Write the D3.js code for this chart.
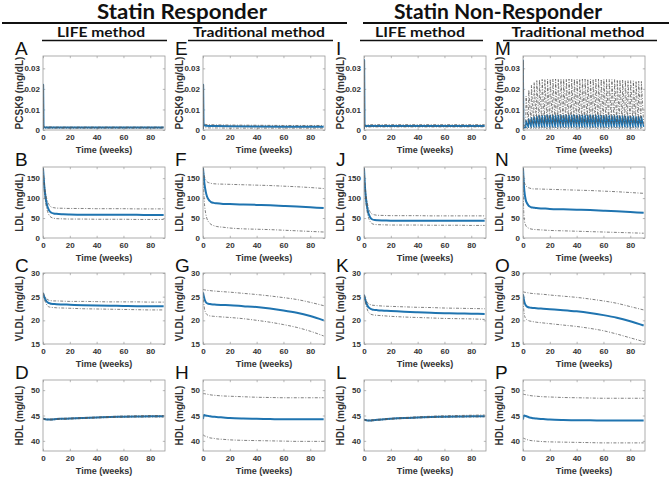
<!DOCTYPE html>
<html><head><meta charset="utf-8">
<script src="https://cdn.jsdelivr.net/npm/d3@7"></script>
<style>body{margin:0;background:#fff}svg{display:block}</style>
</head><body>
<svg id="c" width="669" height="478"></svg>
<script>
// ---------------- DATA ----------------
const groupTitles = ["Statin Responder", "Statin Non-Responder"];
const methodTitles = ["LIFE method", "Traditional method", "LIFE method", "Traditional method"];
const panelLetters = [["A","B","C","D"],["E","F","G","H"],["I","J","K","L"],["M","N","O","P"]];
const yLabels = ["PCSK9 (mg/dL)", "LDL (mg/dL)", "VLDL (mg/dL)", "HDL (mg/dL)"];
const xLabel = "Time (weeks)";
const xTicks = [0, 20, 40, 60, 80];
const yTicksPCSK9 = [0, 0.01, 0.02, 0.03];
const yTickLabelsPCSK9 = ["0", "0.01", "0.02", "0.03"];
const yTicksLDL = [0, 50, 100, 150];
const yTicksVLDL = [15, 20, 25, 30];
const yTicksHDL = [40, 45, 50];

// time grid (weeks) for smooth panels
const weeks = [0,0.5,1,2,3,4,5,6,8,10,15,20,30,40,50,60,70,80,90];
// time grid for PCSK9 panels A, E, I
const pcskWeeks = [0,0.1,0.4,1,2,5,10,20,40,60,80,90];

// PCSK9 (mg/dL)
const A_mean = [0.0005,0.022,0.0016,0.0013,0.0012,0.0012,0.0012,0.0012,0.0012,0.0012,0.0012,0.0012];
const A_up   = [0.0005,0.022,0.0019,0.0016,0.0015,0.0015,0.0014,0.0014,0.0014,0.0014,0.0014,0.0014];
const A_lo   = [0.0005,0.022,0.0012,0.0010,0.0009,0.0009,0.0009,0.0009,0.0009,0.0009,0.0009,0.0009];
const E_mean = [0.0005,0.022,0.0026,0.0023,0.0021,0.0020,0.0019,0.0018,0.0017,0.0016,0.0016,0.0016];
const E_up   = [0.0005,0.022,0.0032,0.0029,0.0027,0.0026,0.0025,0.0024,0.0023,0.0022,0.0022,0.0022];
const E_lo   = [0.0005,0.022,0.0014,0.0012,0.0011,0.0010,0.0010,0.0009,0.0009,0.0009,0.0009,0.0009];
const I_mean = [0.0005,0.034,0.0018,0.0019,0.0019,0.0020,0.0020,0.0020,0.0020,0.0020,0.0020,0.0020];
const I_up   = [0.0005,0.034,0.0022,0.0024,0.0025,0.0026,0.0026,0.0026,0.0026,0.0026,0.0026,0.0026];
const I_lo   = [0.0005,0.034,0.0013,0.0014,0.0014,0.0015,0.0015,0.0015,0.0015,0.0015,0.0015,0.0015];
// panel M: initial spike then one oscillation per dosing cycle
const M_startT = [0, 0.1, 0.5];
const M_startMean = [0.0005, 0.034, 0.0012];
const M_startUp = [0.0005, 0.034, 0.0020];
const M_startLo = [0.0005, 0.034, 0.0006];
const M_dose = [2,4,6,8,10,12,14,16,18,20,22,24,26,28,30,32,34,36,38,40,42,44,46,48,50,52,54,56,58,60,62,64,66,68,70,72,74,76,78,80,82,84,86,88];
const M_upPk = [0.0165,0.0195,0.0218,0.0232,0.0240,0.0244,0.0246,0.0247,0.0248,0.0248,
                0.0248,0.0248,0.0248,0.0248,0.0248,0.0248,0.0248,0.0248,0.0248,0.0248,
                0.0248,0.0248,0.0248,0.0248,0.0248,0.0248,0.0248,0.0247,0.0247,0.0247,
                0.0246,0.0246,0.0245,0.0245,0.0244,0.0244,0.0243,0.0242,0.0241,0.0240,
                0.0239,0.0238,0.0237,0.0236];
const M_upTr = [0.0022,0.0025,0.0027,0.0028,0.0029,0.0030,0.0030,0.0030,0.0030,0.0030,
                0.0030,0.0030,0.0030,0.0030,0.0030,0.0030,0.0030,0.0030,0.0030,0.0030,
                0.0030,0.0030,0.0030,0.0030,0.0030,0.0030,0.0030,0.0030,0.0030,0.0030,
                0.0030,0.0030,0.0030,0.0030,0.0030,0.0030,0.0030,0.0030,0.0030,0.0030,
                0.0030,0.0030,0.0030,0.0030];
const M_meanPk = [0.0045,0.0054,0.0060,0.0064,0.0067,0.0069,0.0070,0.0071,0.0072,0.0072,
                  0.0072,0.0072,0.0072,0.0072,0.0072,0.0072,0.0072,0.0072,0.0072,0.0072,
                  0.0072,0.0072,0.0072,0.0072,0.0072,0.0072,0.0072,0.0071,0.0071,0.0071,
                  0.0071,0.0070,0.0070,0.0069,0.0069,0.0068,0.0068,0.0067,0.0067,0.0066,
                  0.0066,0.0065,0.0065,0.0065];
const M_meanTr = [0.0012,0.0013,0.0014,0.0015,0.0015,0.0015,0.0015,0.0015,0.0015,0.0015,
                  0.0015,0.0015,0.0015,0.0015,0.0015,0.0015,0.0015,0.0015,0.0015,0.0015,
                  0.0015,0.0015,0.0015,0.0015,0.0015,0.0015,0.0015,0.0015,0.0015,0.0015,
                  0.0015,0.0015,0.0015,0.0015,0.0015,0.0015,0.0015,0.0015,0.0015,0.0015,
                  0.0015,0.0015,0.0015,0.0015];
const M_loPk = [0.0012,0.0013,0.0014,0.0015,0.0015,0.0016,0.0016,0.0016,0.0016,0.0016,
                0.0016,0.0016,0.0016,0.0016,0.0016,0.0016,0.0016,0.0016,0.0016,0.0016,
                0.0016,0.0016,0.0016,0.0016,0.0016,0.0016,0.0016,0.0016,0.0016,0.0016,
                0.0016,0.0016,0.0016,0.0016,0.0016,0.0016,0.0016,0.0016,0.0016,0.0016,
                0.0016,0.0016,0.0016,0.0016];
const M_loTr = [0.0006,0.0006,0.0006,0.0006,0.0006,0.0006,0.0006,0.0006,0.0006,0.0006,
                0.0006,0.0006,0.0006,0.0006,0.0006,0.0006,0.0006,0.0006,0.0006,0.0006,
                0.0006,0.0006,0.0006,0.0006,0.0006,0.0006,0.0006,0.0006,0.0006,0.0006,
                0.0006,0.0006,0.0006,0.0006,0.0006,0.0006,0.0006,0.0006,0.0006,0.0006,
                0.0006,0.0006,0.0006,0.0006];

// LDL (mg/dL)
const B_mean = [175,150,128,100,83,73,67,64,61.5,60.5,59.5,59,58.5,58.5,58,58,58,57.5,57.5];
const B_up   = [175,155,136,111,96,87,81,78,76,75,74.5,74,74,73.5,73.5,73.5,73,73,73];
const B_lo   = [175,142,119,88,71,61,55,52,49.5,48.5,48,47.5,47.5,47,47,47,46.5,46.5,46.5];
const F_mean = [175,155,138,117,104,97,93,90,88,87,85.5,85,84,83,82,80.5,79,77,75];
const F_up   = [175,163,155,146,141,139,138,137,136,135.5,135,134.5,133.5,132.5,131.5,130,128.5,126.5,124];
const F_lo   = [175,120,90,62,48,41,37,34,31,29,27,25,23,22,21,19.5,18,16.5,15];
const J_mean = [175,140,115,85,66,56,50,47,45,44.5,44,43.5,43.5,43.5,43,43,43,43,43];
const J_up   = [175,148,125,97,79,69,63,60,58,57,56.5,56,56,56,55.5,55.5,55.5,55.5,55.5];
const J_lo   = [175,130,105,74,55,45,39,36,34,33.5,33,32.5,32.5,32.5,32,32,32,31.5,31.5];
const N_mean = [175,140,118,96,87,82,79,77,76,75,74,73,72,71,70,68.5,67,65,63];
const N_up   = [175,152,140,132,128,126,125,124,123,123,122.5,122,121,120,119,117.5,116,114,112];
const N_lo   = [175,70,45,32,27,25,23.5,22.5,21.5,21,20,19,18,17,16,15,14,13,12];

// VLDL (mg/dL)
const C_mean = [25.8,25.3,24.9,24.3,23.9,23.7,23.6,23.5,23.45,23.4,23.35,23.3,23.2,23.15,23.1,23.05,23.0,23.0,22.95];
const C_up   = [25.8,25.5,25.2,24.8,24.5,24.3,24.2,24.15,24.1,24.1,24.05,24.0,24.0,23.95,23.9,23.9,23.9,23.85,23.85];
const C_lo   = [25.8,25.0,24.5,23.7,23.2,22.9,22.8,22.75,22.7,22.65,22.6,22.55,22.45,22.4,22.35,22.3,22.25,22.2,22.2];
const G_mean = [25.9,25.2,24.6,23.9,23.6,23.5,23.45,23.4,23.35,23.3,23.25,23.2,23.0,22.8,22.5,22.1,21.6,20.9,20.0];
const G_up   = [26.5,26.5,26.45,26.4,26.35,26.3,26.3,26.25,26.2,26.15,26.05,25.95,25.7,25.45,25.15,24.8,24.4,23.8,23.1];
const G_lo   = [25.9,23.8,22.6,21.6,21.2,21.0,20.95,20.9,20.85,20.8,20.7,20.6,20.35,20.0,19.6,19.1,18.5,17.7,16.7];
const K_mean = [25.4,24.8,24.3,23.5,22.9,22.6,22.4,22.3,22.2,22.15,22.05,21.95,21.8,21.7,21.6,21.5,21.45,21.4,21.35];
const K_up   = [25.4,25.0,24.6,24.0,23.6,23.4,23.3,23.2,23.15,23.1,23.0,22.95,22.85,22.75,22.7,22.6,22.55,22.5,22.45];
const K_lo   = [25.4,24.5,23.8,22.7,21.9,21.5,21.3,21.2,21.1,21.05,20.95,20.85,20.7,20.6,20.5,20.4,20.35,20.3,20.2];
const O_mean = [25.5,24.6,23.9,23.2,22.9,22.75,22.7,22.65,22.6,22.55,22.45,22.35,22.15,21.9,21.55,21.1,20.55,19.8,18.9];
const O_up   = [26.0,26.0,25.95,25.9,25.85,25.8,25.75,25.7,25.65,25.6,25.5,25.35,25.1,24.85,24.5,24.1,23.6,22.9,22.2];
const O_lo   = [25.5,22.5,21.2,20.4,20.1,19.95,19.85,19.8,19.7,19.6,19.45,19.3,19.0,18.7,18.3,17.8,17.1,16.3,15.5];

// HDL (mg/dL)
const D_mean = [44.4,44.35,44.3,44.25,44.2,44.2,44.2,44.2,44.25,44.3,44.35,44.4,44.5,44.6,44.7,44.75,44.8,44.85,44.85];
const D_up   = [44.4,44.4,44.35,44.3,44.3,44.3,44.3,44.3,44.35,44.4,44.45,44.5,44.6,44.7,44.8,44.9,44.95,45.0,45.0];
const D_lo   = [44.4,44.3,44.25,44.2,44.15,44.1,44.1,44.1,44.15,44.2,44.25,44.3,44.4,44.5,44.6,44.65,44.7,44.7,44.7];
const H_mean = [44.3,45.0,45.1,45.0,44.95,44.9,44.85,44.8,44.75,44.7,44.6,44.5,44.4,44.35,44.3,44.25,44.25,44.25,44.25];
const H_up   = [49.3,49.3,49.3,49.25,49.2,49.15,49.1,49.05,49.0,48.95,48.85,48.8,48.7,48.6,48.55,48.5,48.5,48.5,48.5];
const H_lo   = [41.2,41.1,41.0,40.9,40.8,40.7,40.6,40.55,40.5,40.4,40.3,40.2,40.1,40.05,40.0,39.95,39.9,39.9,39.9];
const L_mean = [44.2,44.15,44.1,44.05,44.0,44.0,44.0,44.05,44.1,44.15,44.25,44.35,44.5,44.6,44.7,44.75,44.8,44.85,44.85];
const L_up   = [44.2,44.2,44.15,44.1,44.1,44.1,44.1,44.15,44.2,44.25,44.35,44.45,44.6,44.75,44.85,44.95,45.0,45.05,45.1];
const L_lo   = [44.2,44.1,44.05,44.0,43.95,43.9,43.9,43.95,44.0,44.05,44.15,44.25,44.4,44.5,44.6,44.65,44.7,44.7,44.75];
const P_mean = [44.2,44.9,45.0,44.9,44.8,44.7,44.6,44.55,44.45,44.4,44.3,44.2,44.1,44.05,44.05,44.0,44.0,44.0,44.0];
const P_up   = [49.2,49.2,49.15,49.1,49.05,49.0,48.95,48.9,48.85,48.8,48.7,48.65,48.55,48.5,48.45,48.4,48.4,48.4,48.4];
const P_lo   = [40.6,40.5,40.45,40.35,40.25,40.15,40.1,40.05,40.0,39.95,39.85,39.8,39.75,39.7,39.65,39.6,39.6,39.6,39.6];

// ---------------- BUILD SERIES ----------------
function pts(t, v) { return t.map((x, i) => [x, v[i]]); }
function cyc(startT, startV, dose, tr, pk) {
  const out = pts(startT, startV);
  dose.forEach((d, i) => { out.push([d, tr[i]]); out.push([d + 0.3, pk[i]]); });
  out.push([90, tr[tr.length - 1]]);
  return out;
}
const series = {
  A: {mean: pts(pcskWeeks, A_mean), up: pts(pcskWeeks, A_up), lo: pts(pcskWeeks, A_lo), curve: d3.curveLinear},
  E: {mean: pts(pcskWeeks, E_mean), up: pts(pcskWeeks, E_up), lo: pts(pcskWeeks, E_lo), curve: d3.curveLinear},
  I: {mean: pts(pcskWeeks, I_mean), up: pts(pcskWeeks, I_up), lo: pts(pcskWeeks, I_lo), curve: d3.curveLinear},
  M: {mean: cyc(M_startT, M_startMean, M_dose, M_meanTr, M_meanPk),
      up: cyc(M_startT, M_startUp, M_dose, M_upTr, M_upPk),
      lo: cyc(M_startT, M_startLo, M_dose, M_loTr, M_loPk), curve: d3.curveLinear},
  B: {mean: pts(weeks, B_mean), up: pts(weeks, B_up), lo: pts(weeks, B_lo)},
  F: {mean: pts(weeks, F_mean), up: pts(weeks, F_up), lo: pts(weeks, F_lo)},
  J: {mean: pts(weeks, J_mean), up: pts(weeks, J_up), lo: pts(weeks, J_lo)},
  N: {mean: pts(weeks, N_mean), up: pts(weeks, N_up), lo: pts(weeks, N_lo)},
  C: {mean: pts(weeks, C_mean), up: pts(weeks, C_up), lo: pts(weeks, C_lo)},
  G: {mean: pts(weeks, G_mean), up: pts(weeks, G_up), lo: pts(weeks, G_lo)},
  K: {mean: pts(weeks, K_mean), up: pts(weeks, K_up), lo: pts(weeks, K_lo)},
  O: {mean: pts(weeks, O_mean), up: pts(weeks, O_up), lo: pts(weeks, O_lo)},
  D: {mean: pts(weeks, D_mean), up: pts(weeks, D_up), lo: pts(weeks, D_lo)},
  H: {mean: pts(weeks, H_mean), up: pts(weeks, H_up), lo: pts(weeks, H_lo)},
  L: {mean: pts(weeks, L_mean), up: pts(weeks, L_up), lo: pts(weeks, L_lo)},
  P: {mean: pts(weeks, P_mean), up: pts(weeks, P_up), lo: pts(weeks, P_lo)}
};

// ---------------- LAYOUT ----------------
const svg = d3.select("#c");
svg.append("rect").attr("width", 669).attr("height", 478).attr("fill", "#fff");
const colLeft = [43, 203, 364, 523];
const plotW = 122;
const rowBox = [[56, 130], [167, 238], [273, 344], [380, 451]];
const rowCfg = [
  {domain: [0, 0.036], ticks: yTicksPCSK9, fmt: d => yTickLabelsPCSK9[yTicksPCSK9.indexOf(d)]},
  {domain: [0, 178], ticks: yTicksLDL, fmt: d3.format("d")},
  {domain: [15, 30], ticks: yTicksVLDL, fmt: d3.format("d")},
  {domain: [38, 52], ticks: yTicksHDL, fmt: d3.format("d")}
];
const axisFont = "'Liberation Sans', Arial, sans-serif";
const titleFont = "Lato, 'Open Sans', sans-serif";
const boxColor = "#9a9a9a";
const textColor = "#333";
const meanColor = "#1f74b0";
const boundColor = "#555";

// headers
const hdr = [
  {text: groupTitles[0], cx: 182, len: 170, ul: [2, 347]},
  {text: groupTitles[1], cx: 498, len: 208, ul: [363, 669]}
];
hdr.forEach(h => {
  svg.append("text").text(h.text).attr("x", h.cx).attr("y", 18.5)
    .attr("text-anchor", "middle").attr("font-family", titleFont).attr("font-weight", 700)
    .attr("font-size", 20).attr("textLength", h.len).attr("lengthAdjust", "spacingAndGlyphs").attr("fill", "#111");
  svg.append("line").attr("x1", h.ul[0]).attr("x2", h.ul[1]).attr("y1", 23).attr("y2", 23)
    .attr("stroke", "#111").attr("stroke-width", 2);
});
const sub = [
  {cx: 101, len: 88, ul: [42, 167]},
  {cx: 259, len: 132, ul: [188, 333]},
  {cx: 420, len: 90, ul: [360, 483]},
  {cx: 578, len: 133, ul: [503, 657]}
];
sub.forEach((s, i) => {
  svg.append("text").text(methodTitles[i]).attr("x", s.cx).attr("y", 36.5)
    .attr("text-anchor", "middle").attr("font-family", titleFont).attr("font-weight", 700)
    .attr("font-size", 13.5).attr("textLength", s.len).attr("lengthAdjust", "spacingAndGlyphs").attr("fill", "#111");
  svg.append("line").attr("x1", s.ul[0]).attr("x2", s.ul[1]).attr("y1", 40.5).attr("y2", 40.5)
    .attr("stroke", "#111").attr("stroke-width", 1.5);
});

// panels
colLeft.forEach((left, ci) => {
  rowBox.forEach((rb, ri) => {
    const letter = panelLetters[ci][ri];
    const s = series[letter];
    const cfg = rowCfg[ri];
    const x = d3.scaleLinear().domain([0, 91]).range([left, left + plotW]);
    const y = d3.scaleLinear().domain(cfg.domain).range([rb[1], rb[0]]);
    const g = svg.append("g");
    const clipId = "clip" + letter;
    svg.append("clipPath").attr("id", clipId).append("rect")
      .attr("x", left).attr("y", rb[0]).attr("width", plotW).attr("height", rb[1] - rb[0]);

    // axes (ticks inward, MATLAB style)
    const ax = (sel) => {
      sel.selectAll(".domain").remove();
      sel.selectAll("line").attr("stroke", boxColor).attr("stroke-width", 0.7);
      sel.selectAll("text").attr("font-family", axisFont).attr("font-weight", 700)
        .attr("font-size", 8).attr("fill", textColor);
    };
    g.append("g").attr("transform", `translate(0,${rb[1]})`)
      .call(d3.axisBottom(x).tickValues(xTicks).tickSize(-2.2).tickPadding(4).tickFormat(d3.format("d"))).call(ax);
    g.append("g").attr("transform", `translate(0,${rb[0]})`)
      .call(d3.axisTop(x).tickValues(xTicks).tickSize(-2.2).tickFormat("")).call(ax);
    g.append("g").attr("transform", `translate(${left},0)`)
      .call(d3.axisLeft(y).tickValues(cfg.ticks).tickSize(-2.2).tickPadding(3).tickFormat(cfg.fmt)).call(ax);
    g.append("g").attr("transform", `translate(${left + plotW},0)`)
      .call(d3.axisRight(y).tickValues(cfg.ticks).tickSize(-2.2).tickFormat("")).call(ax);

    // data lines
    const line = d3.line().x(d => x(d[0])).y(d => y(d[1])).curve(s.curve || d3.curveMonotoneX);
    const lg = g.append("g").attr("clip-path", `url(#${clipId})`);
    lg.append("path").attr("d", line(s.mean)).attr("fill", "none")
      .attr("stroke", meanColor).attr("stroke-width", letter === "M" ? 1.4 : 2).attr("stroke-linejoin", "round");
    [s.up, s.lo].forEach(b => {
      lg.append("path").attr("d", line(b)).attr("fill", "none")
        .attr("stroke", boundColor).attr("stroke-width", 0.75)
        .attr("stroke-dasharray", "3,1.5,1,1.5");
    });

    // box
    g.append("rect").attr("x", left).attr("y", rb[0]).attr("width", plotW).attr("height", rb[1] - rb[0])
      .attr("fill", "none").attr("stroke", boxColor).attr("stroke-width", 0.8);

    // axis labels
    g.append("text").text(xLabel).attr("x", left + plotW / 2).attr("y", rb[1] + 22.5)
      .attr("text-anchor", "middle").attr("font-family", axisFont).attr("font-weight", 700)
      .attr("font-size", 9).attr("fill", textColor);
    const cy = (rb[0] + rb[1]) / 2;
    g.append("text").text(yLabels[ri])
      .attr("transform", `translate(${left - 20},${cy}) rotate(-90)`)
      .attr("text-anchor", "middle").attr("font-family", axisFont).attr("font-weight", 700)
      .attr("font-size", 10).attr("fill", textColor);

    // panel letter
    g.append("text").text(letter).attr("x", left - 28).attr("y", rb[0] - 1)
      .attr("font-family", axisFont).attr("font-size", 19).attr("fill", "#111");
  });
});
</script>
</body></html>
